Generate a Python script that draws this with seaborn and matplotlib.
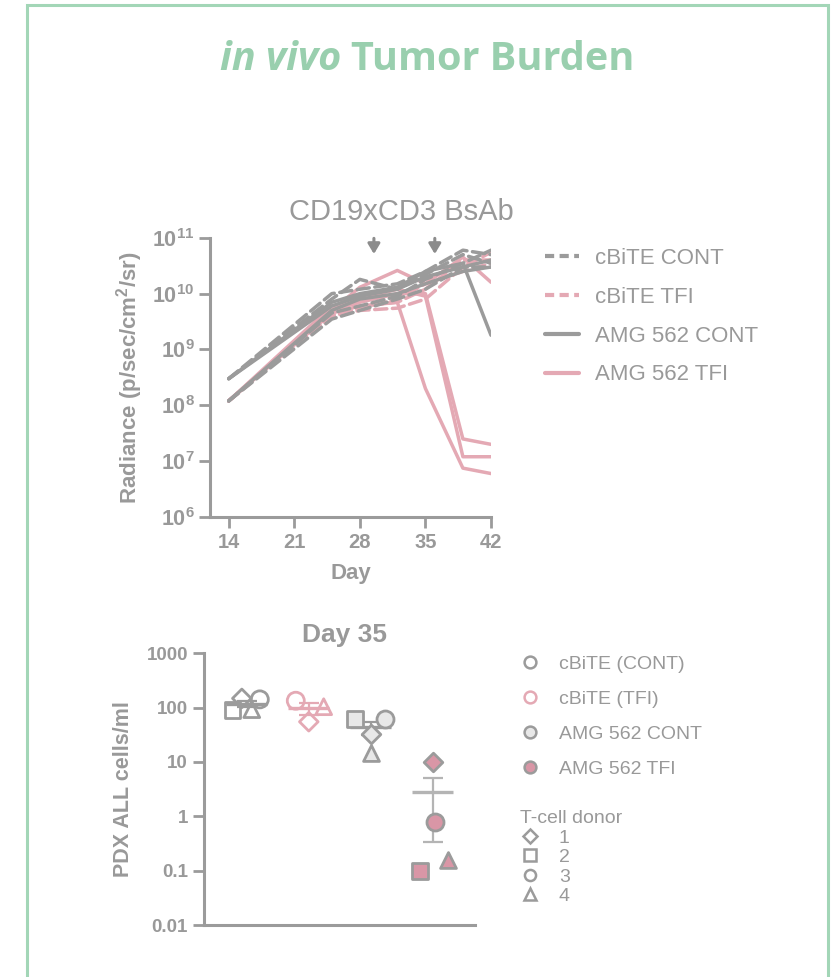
import numpy as np
import pandas as pd
import matplotlib
matplotlib.use("Agg")
import matplotlib.pyplot as plt
import seaborn as sns
from matplotlib.lines import Line2D
from matplotlib.patches import Rectangle

sns.set_theme(style="white")
plt.rcParams['font.family'] = ['Liberation Sans', 'DejaVu Sans']
plt.rcParams['mathtext.fontset'] = 'custom'
plt.rcParams['mathtext.bf'] = 'Liberation Sans:bold'
plt.rcParams['mathtext.rm'] = 'Liberation Sans'

# ---------------- data ----------------
days = [14, 25, 28, 32, 35, 39, 42]

cbite_cont = [
    [3e8, 1.0e10, 1.2e10, 1.5e10, 2.5e10, 6.0e10, 5.0e10],
    [3e8, 8.0e9, 1.8e10, 1.2e10, 2.2e10, 5.0e10, 3.5e10],
    [1.2e8, 4.5e9, 6.0e9, 9.0e9, 1.8e10, 3.5e10, 6.0e10],
    [1.2e8, 3.5e9, 5.0e9, 8.0e9, 1.2e10, 3.0e10, 3.0e10],
]
cbite_tfi = [
    [1.2e8, 4.0e9, 5.0e9, 5.5e9, 8.0e9, 3.0e10, 5.5e10],
    [1.2e8, 5.0e9, 6.0e9, 7.0e9, 1.2e10, 4.0e10, 4.0e10],
    [1.2e8, 4.0e9, 5.5e9, 8.0e9, 1.5e10, 2.5e10, 3.5e10],
]
amg_cont = [
    [3e8, 7.0e9, 1.0e10, 1.3e10, 2.5e10, 3.5e10, 1.8e9],
    [3e8, 6.0e9, 9.0e9, 1.2e10, 2.0e10, 3.0e10, 4.0e10],
    [1.2e8, 5.0e9, 8.0e9, 1.0e10, 1.5e10, 2.5e10, 3.0e10],
]
amg_tfi = [
    [1.2e8, 5.0e9, 1.3e10, 2.6e10, 1.5e10, 4.5e10, 1.6e10],
    [1.2e8, 4.5e9, 6.0e9, 7.0e9, 2.0e8, 7.5e6, 6.0e6],
    [1.2e8, 5.0e9, 7.0e9, 1.0e10, 1.0e10, 2.5e7, 2.0e7],
    [1.2e8, 6.0e9, 8.0e9, 1.2e10, 9.0e9, 1.2e7, 1.2e7],
]
line_groups = ["cBiTE CONT", "cBiTE TFI", "AMG 562 CONT", "AMG 562 TFI"]
dose_days = [29.5, 36]

y_ticks_top = [1e6, 1e7, 1e8, 1e9, 1e10, 1e11]
x_ticks_top = [14, 21, 28, 35, 42]

# Day 35 data
d35_groups = ["cBiTE (CONT)", "cBiTE (TFI)", "AMG 562 CONT", "AMG 562 TFI"]
d35_donors = [[1, 2, 3, 4], [3, 1, 4], [2, 3, 1, 4], [1, 3, 2, 4]]
d35_values = [[148, 92, 142, 92], [134, 55, 104], [62, 63, 33, 14.5], [10, 0.78, 0.10, 0.155]]
donor_labels = ["1", "2", "3", "4"]
y_ticks_bot = [0.01, 0.1, 1, 10, 100, 1000]
y_ticklabels_bot = ["0.01", "0.1", "1", "10", "100", "1000"]

# ---------------- style ----------------
GRAY = '#9b9b9b'
PINK = '#e4a9b4'
PINK_FILL = '#d996a6'
LIGHT_FILL = '#e8e8e8'
GREEN = '#99cfae'
TXT = '#999999'

# beeswarm-like horizontal offsets (layout only)
d35_offsets = [[-0.08, -0.23, 0.21, 0.08], [-0.21, 0.0, 0.24], [-0.25, 0.23, 0.0, 0.0], [0.0, 0.03, -0.21, 0.24]]
donor_markers = {1: 'D', 2: 's', 3: 'o', 4: '^'}
donor_sizes = {1: 90, 2: 130, 3: 150, 4: 130}

W, H = 833, 977
fig = plt.figure(figsize=(W / 100, H / 100), dpi=100)

def fx(px):
    return px / W

def fy(py):
    return 1 - py / H

# frame
fig.patches.append(Rectangle((fx(27), fy(1100)), fx(801), (1100 - 5) / H, transform=fig.transFigure,
                             fill=False, edgecolor='#a3d6b7', linewidth=2.2))

# title
fig.text(fx(341), fy(59), "in vivo", ha='right', va='center', fontsize=28.5, style='italic',
         fontweight='bold', color=GREEN, family=['Open Sans', 'DejaVu Sans'])
fig.text(fx(351), fy(59), "Tumor Burden", ha='left', va='center', fontsize=28.5,
         fontweight='bold', color=GREEN, family=['Open Sans', 'DejaVu Sans'])

# ---------------- top plot ----------------
rows = []
for g, mice in zip(line_groups, [cbite_cont, cbite_tfi, amg_cont, amg_tfi]):
    for m, vals in enumerate(mice):
        for d, v in zip(days, vals):
            rows.append({"Day": d, "Radiance": v, "group": g, "mouse": f"{g}-{m}"})
df = pd.DataFrame(rows)

ax1 = fig.add_axes([fx(210), fy(517), fx(491 - 210), (517 - 237.8) / H])
palette = {"cBiTE CONT": GRAY, "cBiTE TFI": PINK, "AMG 562 CONT": GRAY, "AMG 562 TFI": PINK}
dashes = {"cBiTE CONT": (3.5, 1.6), "cBiTE TFI": (3.5, 1.6), "AMG 562 CONT": "", "AMG 562 TFI": ""}
order_draw = ["AMG 562 TFI", "cBiTE TFI", "AMG 562 CONT", "cBiTE CONT"]
for g in order_draw:
    sub = df[df.group == g]
    sns.lineplot(data=sub, x="Day", y="Radiance", units="mouse", estimator=None, ax=ax1,
                 color=palette[g], linewidth=2.5, legend=False,
                 **({"dashes": dashes[g]} if dashes[g] else {}), solid_capstyle='round',
                 dash_capstyle='round')
ax1.set_yscale('log')
ax1.set_xlim(12, 42)
ax1.set_ylim(1e6, 1e11)
ax1.set_xticks(x_ticks_top)
ax1.set_xticklabels([str(t) for t in x_ticks_top], fontweight='bold')
ax1.set_yticks(y_ticks_top)
ax1.set_yticklabels([r'$\mathbf{10^{%d}}$' % int(np.log10(t)) for t in y_ticks_top])
ax1.yaxis.set_minor_locator(matplotlib.ticker.NullLocator())
for s in ['top', 'right']:
    ax1.spines[s].set_visible(False)
for s in ['left', 'bottom']:
    ax1.spines[s].set_color(GRAY)
    ax1.spines[s].set_linewidth(2.2)
ax1.tick_params(axis='both', colors=GRAY, labelcolor=TXT, length=8, width=2, labelsize=14.5,
                direction='out', bottom=True, left=True)
ax1.tick_params(axis='y', labelsize=15.5, pad=3)
ax1.set_xlabel("Day", fontsize=16, fontweight='bold', color=TXT, labelpad=8)
ax1.set_ylabel("Radiance (p/sec/cm$\\mathbf{^2}$/sr)", fontsize=16, fontweight='bold', color=TXT, labelpad=5)
ax1.set_title("CD19xCD3 BsAb", fontsize=21, color=TXT, pad=13, x=0.68)
for d in dose_days:
    ax1.annotate("", xy=(d, 10 ** 10.66), xytext=(d, 10 ** 11.04), annotation_clip=False,
                 arrowprops=dict(arrowstyle='-|>,head_length=0.5,head_width=0.3', color='#8c8c8c', lw=2.2))

leg_handles = [
    Line2D([], [], color=GRAY, lw=3, dashes=(2.2, 1.3)),
    Line2D([], [], color=PINK, lw=3, dashes=(2.2, 1.3)),
    Line2D([], [], color=GRAY, lw=3),
    Line2D([], [], color=PINK, lw=3),
]
fig.legend(leg_handles, line_groups, loc='upper left', bbox_to_anchor=(fx(545), fy(248)),
           frameon=False, fontsize=16, labelcolor=TXT, handlelength=1.55, handletextpad=0.7,
           labelspacing=0.8, borderpad=0, borderaxespad=0)

# ---------------- bottom plot ----------------
rows2 = []
for gi, (g, dn, vals, offs) in enumerate(zip(d35_groups, d35_donors, d35_values, d35_offsets)):
    for d, v, o in zip(dn, vals, offs):
        rows2.append({"group": g, "gi": gi, "donor": d, "value": v, "x": gi + o})
df2 = pd.DataFrame(rows2)

ax2 = fig.add_axes([fx(204), fy(925), fx(475 - 204), (925 - 653.3) / H])
face = {0: 'none', 1: 'none', 2: LIGHT_FILL, 3: PINK_FILL}
edge = {0: GRAY, 1: PINK, 2: GRAY, 3: GRAY}
errc = {0: GRAY, 1: PINK, 2: GRAY, 3: '#b4b4b4'}

for gi in range(4):
    sub = df2[df2.gi == gi]
    vals = sub.value.values
    mean = vals.mean()
    sem = vals.std(ddof=1) / np.sqrt(len(vals))
    ax2.errorbar([gi], [mean], yerr=[[sem], [sem]], fmt='none', ecolor=errc[gi], elinewidth=1.6,
                 capsize=7.5, capthick=1.6, zorder=2)
    ax2.hlines(mean, gi - 0.33, gi + 0.33, color=errc[gi], linewidth=2.4, zorder=2)
    for _, r in sub.iterrows():
        ax2.scatter([r.x], [r.value], marker=donor_markers[r.donor], s=donor_sizes[r.donor],
                    facecolors=face[gi], edgecolors=edge[gi], linewidths=2.0, zorder=3)

ax2.set_yscale('log')
ax2.set_ylim(0.01, 1000)
ax2.set_xlim(-0.69, 3.68)
ax2.set_xticks([])
ax2.set_yticks(y_ticks_bot)
ax2.set_yticklabels(y_ticklabels_bot, fontweight='bold')
ax2.yaxis.set_minor_locator(matplotlib.ticker.NullLocator())
for s in ['top', 'right']:
    ax2.spines[s].set_visible(False)
for s in ['left', 'bottom']:
    ax2.spines[s].set_color(GRAY)
    ax2.spines[s].set_linewidth(2.2)
ax2.tick_params(axis='y', colors=GRAY, labelcolor=TXT, length=8, width=2, labelsize=13.5, left=True)
ax2.set_ylabel("PDX ALL cells/ml", fontsize=15.5, fontweight='bold', color=TXT, labelpad=9)
ax2.set_title("Day 35", fontsize=19, fontweight='bold', color=TXT, pad=8, x=0.52)

grp_handles = [Line2D([], [], ls='none', marker='o', markersize=8.5, markerfacecolor=face[i],
                      markeredgecolor=edge[i], markeredgewidth=1.8) for i in range(4)]
fig.legend(grp_handles, d35_groups, loc='upper left', bbox_to_anchor=(fx(520), fy(655)),
           frameon=False, fontsize=14, labelcolor=TXT, handlelength=1.0, handletextpad=1.0,
           labelspacing=0.9, borderpad=0, borderaxespad=0)

don_handles = [Line2D([], [], ls='none', marker=donor_markers[k], markersize=8 if k != 1 else 7,
                      markerfacecolor='none', markeredgecolor=GRAY, markeredgewidth=1.8)
               for k in [1, 2, 3, 4]]
dl = fig.legend(don_handles, donor_labels, loc='upper left', bbox_to_anchor=(fx(520), fy(810)),
                frameon=False, fontsize=14, labelcolor=TXT, handlelength=1.0, handletextpad=1.0,
                labelspacing=0.1, borderpad=0, borderaxespad=0, title="T-cell donor",
                title_fontsize=14, alignment='left')
dl.get_title().set_color(TXT)

fig.savefig("out.png", dpi=100, facecolor='white')
